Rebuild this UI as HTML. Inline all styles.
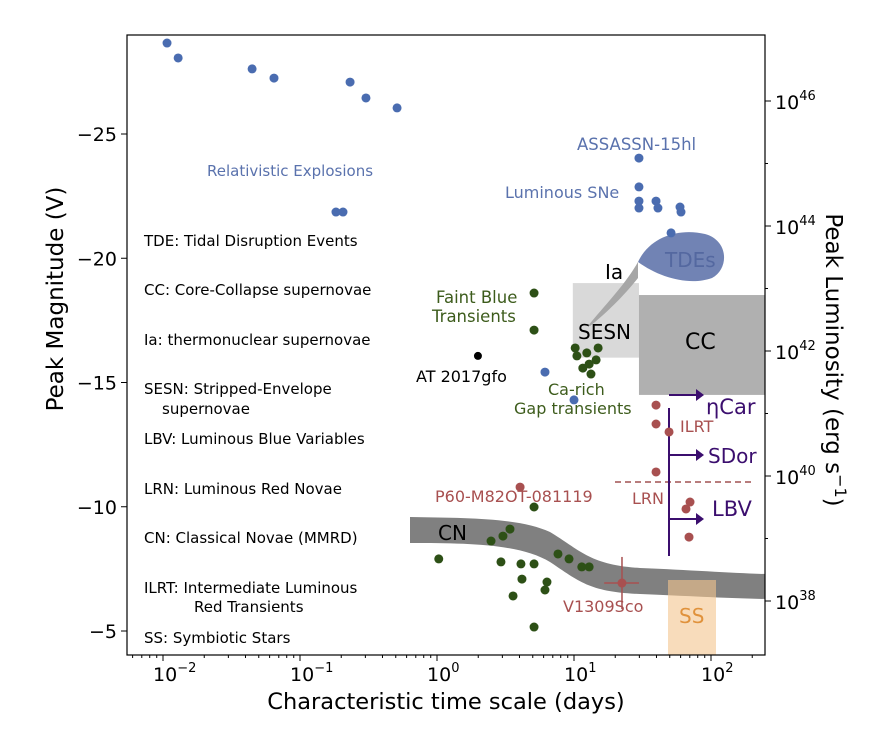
<!DOCTYPE html>
<html><head><meta charset="utf-8"><style>
body{margin:0;background:#fff;font-family:"DejaVu Sans","Liberation Sans",sans-serif}
svg text{font-family:"DejaVu Sans","Liberation Sans",sans-serif}
</style></head><body>
<svg id="c" width="882" height="726" xmlns="http://www.w3.org/2000/svg"></svg>
<script>
const blueDays=[0.0107,0.0129,0.0447,0.0646,0.232,0.303,0.511,0.183,0.206,29.8,29.8,29.8,29.8,39.7,41.0,59.4,60.4,51.1,6.14,10.0];
const blueMag=[-28.66,-28.06,-27.62,-27.25,-27.09,-26.45,-26.05,-21.86,-21.86,-24.03,-22.87,-22.30,-22.02,-22.30,-22.02,-22.06,-21.86,-21.02,-15.42,-14.30];
const greenDays=[5.11,5.11,10.2,15.0,10.5,12.4,14.5,11.6,12.9,13.3,5.11,3.41,3.03,2.48,1.03,2.93,4.10,5.11,4.17,6.35,6.14,3.59,5.11,7.64,9.20,11.4,12.9];
const greenMag=[-18.60,-17.11,-16.39,-16.39,-16.07,-16.19,-15.91,-15.58,-15.74,-15.34,-9.99,-9.10,-8.82,-8.62,-7.90,-7.78,-7.70,-7.70,-7.09,-6.97,-6.65,-6.41,-5.16,-8.10,-7.90,-7.58,-7.58];
const redDays=[4.04,39.7,70.3,65.7,69.1,39.7,39.7,49.4];
const redMag=[-10.79,-11.40,-10.19,-9.91,-8.78,-14.09,-13.33,-13.01];
const xTicks=[0.01,0.1,1,10,100];
const xTickLabels=["10","10","10","10","10"];
const xTickExp=["−2","−1","0","1","2"];
const yTicks=[-25,-20,-15,-10,-5];
const yTickLabels=["−25","−20","−15","−10","−5"];
const lumTicks=[46,44,42,40,38];

const L=127,R=765,T=35,B=655;
const X=d=>437+137*Math.log10(d);
const Y=m=>134+(m+25)*24.85;
const YL=e=>601-(e-38)*62.5;
const svg=document.getElementById('c');
const NS='http://www.w3.org/2000/svg';
function el(tag,at,parent){const e=document.createElementNS(NS,tag);for(const k in at)e.setAttribute(k,at[k]);(parent||svg).appendChild(e);return e;}
function txt(x,y,s,at){const e=el('text',Object.assign({x:x,y:y},at));e.textContent=s;return e;}

let e;
e=el('rect',{x:X(9.8),y:Y(-19.0),width:X(29.8)-X(9.8),height:Y(-16.0)-Y(-19.0),fill:'#d9d9d9'});

e=el('rect',{x:X(29.8),y:Y(-18.52),width:R-X(29.8),height:Y(-14.5)-Y(-18.52),fill:'#b0b0b0'});

e=el('path',{d:'M588,326 C605,305 625,285 638,262 L638,278 C622,298 604,315 590,326 Z',fill:'#a6a6a6'});

e=el('path',{d:'M638,262 C650,236 680,228 705,234 C728,240 730,268 712,278 C690,286 660,278 638,262 Z',fill:'#7183b4'});

e=el('path',{d:'M410,517 C470,518 520,518 550,532 C580,550 590,565 640,568 C690,570 730,573 765,574 L765,599 C720,598 690,596 640,594 C590,592 580,582 550,562 C520,544 470,543 410,543 Z',fill:'#808080'});

e=el('rect',{x:668,y:580,width:48,height:75,fill:'#f3c48e',opacity:0.6});


e=el('line',{x1:615,y1:482,x2:752,y2:482,stroke:'#a05050','stroke-width':1.5,'stroke-dasharray':'6,4'});

e=el('line',{x1:669,y1:408,x2:669,y2:556,stroke:'#3b0e6e','stroke-width':2});

[395,455,519].forEach(y=>{el('line',{x1:669,y1:y,x2:698,y2:y,stroke:'#3b0e6e','stroke-width':2});el('path',{d:`M696,${y-6} L704,${y} L696,${y+6} Z`,fill:'#3b0e6e'});});

function pts(ds,ms,col,name){ds.forEach((d,i)=>{const c=el('circle',{cx:X(d),cy:Y(ms[i]),r:4.5,fill:col});

});}
pts(blueDays,blueMag,'#4a6cb0','relativistic-point');
pts(greenDays,greenMag,'#2d5016','nova-point');
pts(redDays,redMag,'#a85050','red-transient-point');
e=el('circle',{cx:X(1.99),cy:Y(-16.07),r:4,fill:'#000'});

el('line',{x1:X(16.6),y1:Y(-6.93),x2:X(29.8),y2:Y(-6.93),stroke:'#a85050','stroke-width':1.5});
el('line',{x1:X(22.4),y1:Y(-7.98),x2:X(22.4),y2:Y(-5.88),stroke:'#a85050','stroke-width':1.5});
e=el('circle',{cx:X(22.4),cy:Y(-6.93),r:4.5,fill:'#a85050'});


const labs=[[207,176,'Relativistic Explosions','#5a72ad',15],[577,150,'ASSASSN-15hl','#5a72ad',16.5],[505,198,'Luminous SNe','#5a72ad',16],
[436,303,'Faint Blue','#3d5c1c',16.5],[432,322,'Transients','#3d5c1c',16.5],[416,382,'AT 2017gfo','#000',16],
[548,395,'Ca-rich','#3d5c1c',16],[514,414,'Gap transients','#3d5c1c',16],[680,432,'ILRT','#a85050',16],
[435,502,'P60-M82OT-081119','#a85050',16],[632,504,'LRN','#a85050',16],[563,612,'V1309Sco','#a85050',16],
[605,279,'Ia','#000',20],[578,339,'SESN','#000',20],[685,349,'CC','#000',22],[438,540,'CN','#000',20],[665,267,'TDEs','#5468a0',20],
[679,623,'SS','#e0923c',20],[706,414,'ηCar','#3b0e6e',21],[708,463,'SDor','#3b0e6e',20],[712,516,'LBV','#3b0e6e',21]];
labs.forEach(l=>{const t=txt(l[0],l[1],l[2],{fill:l[3],'font-size':l[4]});

});
const leg=[[144,241,'TDE: Tidal Disruption Events'],[144,290,'CC: Core-Collapse supernovae'],[144,340,'Ia: thermonuclear supernovae'],[144,389,'SESN: Stripped-Envelope'],[162,409,'supernovae'],[144,439,'LBV: Luminous Blue Variables'],[144,489,'LRN: Luminous Red Novae'],[144,538,'CN: Classical Novae (MMRD)'],[144,588,'ILRT: Intermediate Luminous'],[194,607,'Red Transients'],[144,638,'SS: Symbiotic Stars']];
leg.forEach(l=>{const t=txt(l[0],l[1]+5,l[2],{fill:'#000','font-size':15});

});

e=el('rect',{x:L,y:T,width:R-L,height:B-T,fill:'none',stroke:'#000','stroke-width':1.2});

xTicks.forEach((v,i)=>{const x=X(v);el('line',{x1:x,y1:B,x2:x,y2:B+6,stroke:'#000'});
const t=txt(x-10,B+26,xTickLabels[i],{'font-size':19});const s=el('tspan',{dy:-9,'font-size':13},t);s.textContent=xTickExp[i];
});
for(let dec=-3;dec<=2;dec++)for(let k=2;k<=9;k++){const x=X(k*Math.pow(10,dec));if(x>L&&x<R)el('line',{x1:x,y1:B,x2:x,y2:B+3,stroke:'#000'});}
yTicks.forEach((v,i)=>{const y=Y(v);el('line',{x1:L-6,y1:y,x2:L,y2:y,stroke:'#000'});
const t=txt(L-10,y+7,yTickLabels[i],{'font-size':19,'text-anchor':'end'});
});
lumTicks.forEach(v=>{const y=YL(v);el('line',{x1:R,y1:y,x2:R+6,y2:y,stroke:'#000'});
const t=txt(R+10,y+8,'10',{'font-size':19});const s=el('tspan',{dy:-9,'font-size':13},t);s.textContent=String(v);
});
[45,43,41,39].forEach(v=>{const y=YL(v);el('line',{x1:R,y1:y,x2:R+3,y2:y,stroke:'#000'});});
e=txt(446,709,'Characteristic time scale (days)',{'font-size':22.5,'text-anchor':'middle'});

e=txt(0,0,'Peak Magnitude (V)',{'font-size':23,'text-anchor':'middle',transform:'translate(63,299) rotate(-90)'});

e=txt(0,0,'Peak Luminosity (erg s',{'font-size':23,'text-anchor':'middle',transform:'translate(826,360) rotate(90)'});
const sp=el('tspan',{dy:-9,'font-size':16},e);sp.textContent='−1';const sp2=el('tspan',{dy:9},e);sp2.textContent=')';

</script>
</body></html>
